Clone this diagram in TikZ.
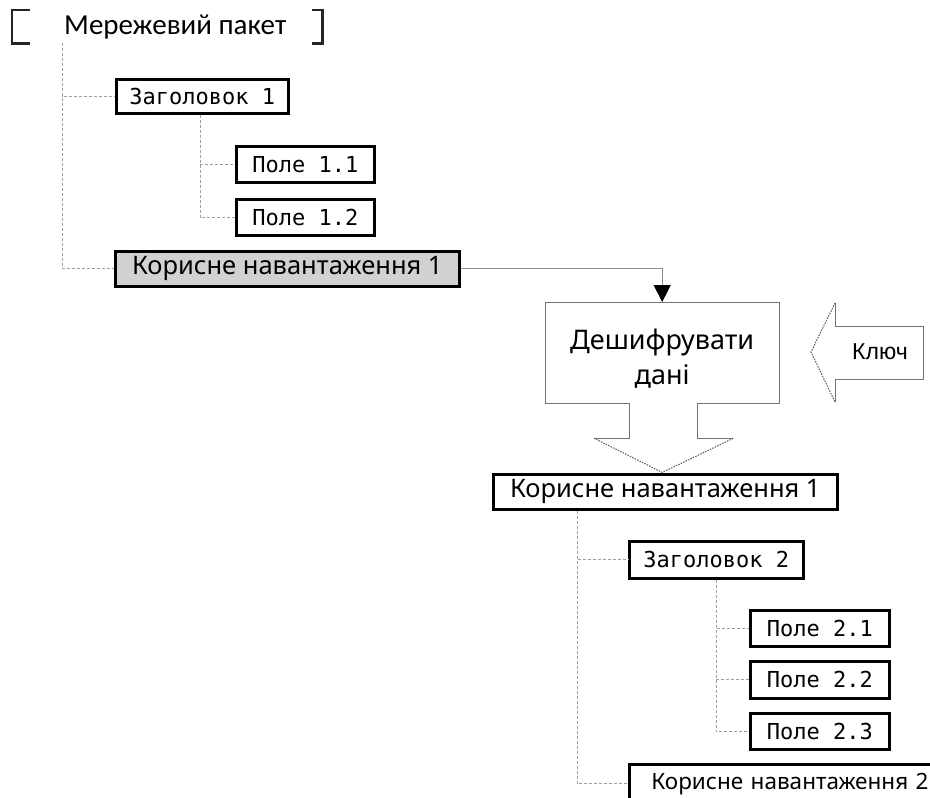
\documentclass[tikz,border=0pt]{standalone}
\usepackage{fontspec}
\setmainfont{Noto Sans}
\newfontfamily\titlefont{Carlito}
\newfontfamily\monofont{DejaVu Sans Mono}
\newfontfamily\keyfont{Liberation Sans}
\usetikzlibrary{arrows.meta,calc}

\begin{document}
\begin{tikzpicture}[x=1pt,y=-1pt,
  box/.style={draw=black, line width=2.6pt, fill=white, inner sep=0pt,
    anchor=north west, text=black},
  field/.style={box, font=\monofont\fontsize{22}{24}\selectfont},
  payload/.style={box, minimum width=344, minimum height=35,
    font=\fontsize{25.5}{28}\selectfont},
  tree/.style={draw=black!38, line width=1pt, dash pattern=on 3pt off 2pt},
  outline/.style={draw=black!55, line width=1pt},
  dotline/.style={draw=black!65, line width=1pt, dash pattern=on 1.5pt off 1.2pt},
  bracket/.style={draw=black!85, line width=2.8pt},
  link/.style={draw=black!45, line width=1.2pt,
    -{Triangle[width=17pt,length=17pt,color=black]}},
]
\useasboundingbox (0,0) rectangle (930,798);
\clip (0,0) rectangle (930,798);
\fill[white] (0,0) rectangle (930,798);

% --- outer packet -------------------------------------------------------
\node[inner sep=0pt, minimum width=310, minimum height=33, anchor=north west,
      font=\titlefont\fontsize{29}{31}\selectfont, text=black]
  (pkt) at (12,10) {\hspace*{16pt}Мережевий пакет};
\draw[bracket] ([xshift=18pt]pkt.north west) -- (pkt.north west)
  -- (pkt.south west) -- ([xshift=18pt]pkt.south west);
\draw[bracket] ([xshift=-10pt]pkt.north east) -- (pkt.north east)
  -- (pkt.south east) -- ([xshift=-10pt]pkt.south east);

% --- first level: header 1 and its fields ------------------------------
\node[field, minimum width=172, minimum height=34] (h1) at (115,78) {Заголовок 1};
\node[field, minimum width=138, minimum height=36] (f11) at (235,145) {Поле 1.1};
\node[field, minimum width=138, minimum height=36] (f12) at (235,198) {Поле 1.2};
\node[payload, fill=black!18] (p1) at (114,250) {Корисне навантаження 1};

\coordinate (t0) at ($(pkt.south west)+(50,0)$);
\draw[tree] (t0) |- (h1.west);
\draw[tree] (t0) |- (p1.west);
\coordinate (t1) at ($(h1.south west)+(85,0)$);
\draw[tree] (t1) |- (f11.west);
\draw[tree] (t1) |- (f12.west);

% --- decryption step ----------------------------------------------------
\node[inner sep=0pt, minimum width=234, minimum height=101, anchor=north west]
  (dec) at (545,302) {};
\node[inner sep=0pt, align=center, font=\fontsize{27}{35}\selectfont,
      text=black] (dectext) at ([yshift=-6pt]dec.center) {Дешифрувати\\дані};
\draw[link] (p1.east) -| (dec.north);

\coordinate (tip) at ($(dec.south)+(0,69)$);
\coordinate (wr) at ($(dec.south)+(71,35)$);
\coordinate (wl) at ($(dec.south)+(-68,35)$);
\draw[outline] (wl) -- ++(35,0) -- ++(0,-35) -- (dec.south west)
  -- (dec.north west) -- (dec.north east) -- (dec.south east)
  -- ++(-82,0) -- ++(0,35) -- (wr);
\draw[dotline] (wr) -- (tip) -- (wl);

% --- key arrow ------------------------------------------------------------
\node[inner sep=0pt, font=\keyfont\fontsize{23}{25}\selectfont, text=black]
  (key) at (880,352) {Ключ};
\coordinate (kt) at (811,352);
\draw[outline] (835,303) -- (835,326) -- (923,326) -- (923,379)
  -- (835,379) -- (835,402);
\draw[dotline] (835,303) -- (kt) -- (835,402);

% --- decrypted payload ----------------------------------------------------
\node[payload] (p1b) at (492,473) {Корисне навантаження 1};
\node[field, minimum width=174, minimum height=37] (h2) at (628,540) {Заголовок 2};
\node[field, minimum width=139, minimum height=36] (f21) at (749,609) {Поле 2.1};
\node[field, minimum width=139, minimum height=37] (f22) at (749,660) {Поле 2.2};
\node[field, minimum width=139, minimum height=36] (f23) at (749,712) {Поле 2.3};
\node[payload, font=\fontsize{22.5}{26}\selectfont, text width=300, align=left,
      inner xsep=15pt, minimum height=40] (p2) at (628,763) {Корисне навантаження 2};

\coordinate (t2) at ($(p1b.south west)+(85,0)$);
\draw[tree] (t2) |- (h2.west);
\draw[tree] (t2) |- ([yshift=1pt]p2.west);
\coordinate (t3) at ($(h2.south west)+(88,0)$);
\draw[tree] (t3) |- (f21.west);
\draw[tree] (t3) |- (f22.west);
\draw[tree] (t3) |- (f23.west);
\end{tikzpicture}
\end{document}
